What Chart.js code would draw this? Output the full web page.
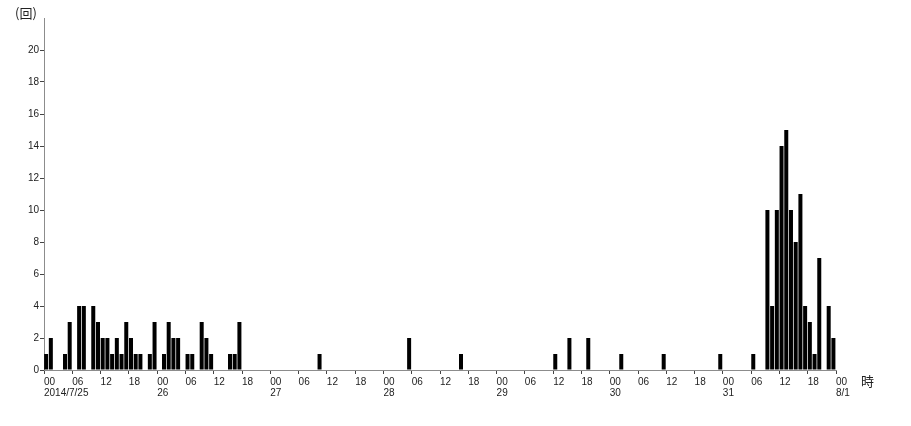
<!DOCTYPE html>
<html>
<head>
<meta charset="utf-8">
<script src="https://cdn.jsdelivr.net/npm/chart.js@4/dist/chart.umd.min.js"></script>
<style>
  html, body { margin: 0; padding: 0; background: #fff; }
  #wrap { width: 911px; height: 426px; position: relative; }
</style>
</head>
<body>
<div id="wrap"><canvas id="chart"></canvas></div>
<script>
// hourly counts, 00..23 for each day
const day0725 = [1, 2, 0, 0, 1, 3, 0, 4, 4, 0, 4, 3, 2, 2, 1, 2, 1, 3, 2, 1, 1, 0, 1, 3];
const day0726 = [0, 1, 3, 2, 2, 0, 1, 1, 0, 3, 2, 1, 0, 0, 0, 1, 1, 3, 0, 0, 0, 0, 0, 0];
const day0727 = [0, 0, 0, 0, 0, 0, 0, 0, 0, 0, 1, 0, 0, 0, 0, 0, 0, 0, 0, 0, 0, 0, 0, 0];
const day0728 = [0, 0, 0, 0, 0, 2, 0, 0, 0, 0, 0, 0, 0, 0, 0, 0, 1, 0, 0, 0, 0, 0, 0, 0];
const day0729 = [0, 0, 0, 0, 0, 0, 0, 0, 0, 0, 0, 0, 1, 0, 0, 2, 0, 0, 0, 2, 0, 0, 0, 0];
const day0730 = [0, 0, 1, 0, 0, 0, 0, 0, 0, 0, 0, 1, 0, 0, 0, 0, 0, 0, 0, 0, 0, 0, 0, 1];
const day0731 = [0, 0, 0, 0, 0, 0, 1, 0, 0, 10, 4, 10, 14, 15, 10, 8, 11, 4, 3, 1, 7, 0, 4, 2];

const dateLabels = ["2014/7/25", "26", "27", "28", "29", "30", "31", "8/1"];
const hourLabels = ["00", "06", "12", "18"];
const yUnit = "(回)";
const xUnit = "時";

const days = [day0725, day0726, day0727, day0728, day0729, day0730, day0731];
let points = [];
days.forEach((counts, d) => {
  counts.forEach((c, h) => {
    points.push({ x: d * 24 + h + 0.45, y: c });
  });
});

const textColor = "#222";
const font = { family: "'Liberation Sans', Arial, sans-serif", size: 10, lineHeight: 1.1 };

const unitLabels = {
  id: "unitLabels",
  afterDraw(chart) {
    const ctx = chart.ctx;
    ctx.save();
    ctx.fillStyle = textColor;
    ctx.font = "13px 'Noto Sans CJK JP', sans-serif";
    ctx.textBaseline = "middle";
    ctx.textAlign = "left";
    ctx.fillText(yUnit, 15, 13);
    ctx.fillText(xUnit, 861, 381);
    ctx.restore();
  },
};

new Chart(document.getElementById("chart"), {
  type: "bar",
  data: {
    datasets: [
      {
        data: points,
        backgroundColor: "#000",
        borderWidth: 0,
        barPercentage: 1,
        categoryPercentage: 0.85,
      },
    ],
  },
  options: {
    responsive: true,
    maintainAspectRatio: false,
    animation: false,
    layout: { padding: { top: 18, right: 75, left: 0, bottom: 0 } },
    plugins: { legend: { display: false }, tooltip: { enabled: false } },
    scales: {
      x: {
        type: "linear",
        min: 0,
        max: 168,
        offset: false,
        border: { color: "#8c8c8c", width: 1 },
        grid: { offset: false, drawOnChartArea: false, drawTicks: true, tickLength: 4, color: "#444" },
        ticks: {
          stepSize: 6,
          autoSkip: false,
          maxRotation: 0,
          minRotation: 0,
          align: "start",
          padding: 3,
          color: textColor,
          font: font,
          callback: (v) => {
            const h = hourLabels[(v % 24) / 6];
            if (v % 24 === 0) return [h, dateLabels[v / 24]];
            return h;
          },
        },
        afterFit: (scale) => { scale.height = 56; },
      },
      y: {
        min: 0,
        max: 22,
        border: { color: "#8c8c8c", width: 1 },
        grid: { drawOnChartArea: false, drawTicks: true, tickLength: 4, color: "#444" },
        ticks: {
          stepSize: 2,
          padding: 1,
          color: textColor,
          font: font,
          callback: (v) => (v === 22 ? null : v),
        },
        afterFit: (scale) => { scale.width = 44; },
      },
    },
  },
  plugins: [unitLabels],
});
</script>
</body>
</html>
